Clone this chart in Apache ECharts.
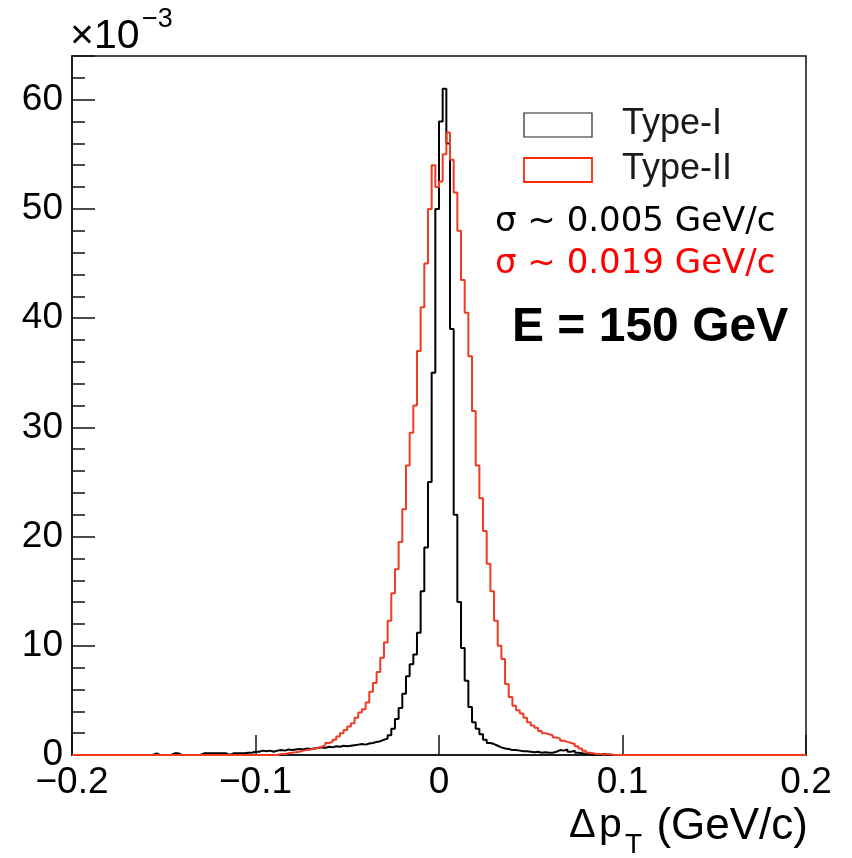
<!DOCTYPE html>
<html>
<head>
<meta charset="UTF-8"/>
<title>delta pT resolution</title>
<script src="https://cdn.jsdelivr.net/npm/echarts@6.0.0/dist/echarts.min.js"></script>
<style>
html,body{margin:0;padding:0;background:#fff;}
#main{width:852px;height:858px;}
</style>
</head>
<body>
<div id="main"></div>
<script type="text/javascript">
// histogram: 200 bins of 0.002 GeV/c from -0.2 to 0.2, contents in units of 1e-3
var binLow = -0.2;
var binWidth = 0.002;

var typeI = [
  0, 0, 0, 0, 0, 0, 0, 0, 0, 0, 0, 0, 0, 0, 0, 0, 0, 0, 0, 0,
  0, 0, 0.15, 0, 0, 0, 0, 0.15, 0.15, 0, 0, 0, 0, 0, 0, 0.15, 0.15, 0.15, 0.15, 0.15,
  0.15, 0.15, 0, 0.15, 0.15, 0.15, 0.15, 0.2, 0.2, 0.3, 0.3, 0.4, 0.35, 0.4, 0.3, 0.4, 0.45, 0.4, 0.5, 0.45,
  0.5, 0.55, 0.5, 0.6, 0.55, 0.6, 0.65, 0.7, 0.65, 0.75, 0.7, 0.8, 0.75, 0.85, 0.8, 0.85, 0.9, 0.95, 1.0, 0.95,
  1.05, 1.1, 1.2, 1.25, 1.4, 1.5, 1.8, 2.4, 3.3, 4.3, 5.6, 7.2, 8.3, 9.2, 11.2, 15, 19, 25, 35, 50,
  58, 61, 56, 39, 22, 14, 9.8, 6.8, 4.4, 3.0, 2.4, 1.9, 1.4, 1.1, 1.0, 0.85, 0.7, 0.6, 0.55, 0.45,
  0.45, 0.4, 0.35, 0.35, 0.3, 0.25, 0.3, 0.2, 0.25, 0.2, 0.2, 0.3, 0.45, 0.4, 0.5, 0.3, 0.4, 0.2, 0.15, 0.1,
  0.1, 0, 0.1, 0, 0.1, 0, 0, 0, 0, 0, 0, 0, 0, 0, 0, 0, 0, 0, 0, 0,
  0, 0, 0, 0, 0, 0, 0, 0, 0, 0, 0, 0, 0, 0, 0, 0, 0, 0, 0, 0,
  0, 0, 0, 0, 0, 0, 0, 0, 0, 0, 0, 0, 0, 0, 0, 0, 0, 0, 0, 0
];

var typeII = [
  0, 0, 0, 0, 0, 0, 0, 0, 0, 0, 0, 0, 0, 0, 0, 0, 0, 0, 0, 0,
  0, 0, 0, 0, 0, 0, 0, 0, 0, 0, 0, 0, 0, 0, 0, 0, 0, 0, 0, 0,
  0, 0, 0, 0, 0, 0, 0, 0, 0, 0, 0, 0, 0, 0, 0, 0, 0.1, 0.1, 0.15, 0.2,
  0.25, 0.3, 0.4, 0.45, 0.5, 0.6, 0.65, 0.75, 0.9, 1.1, 1.2, 1.4, 1.7, 2.0, 2.3, 2.6, 2.9, 3.4, 3.9, 4.2,
  4.8, 5.8, 6.6, 7.6, 8.9, 10.3, 12.3, 14.8, 17, 19.5, 22.5, 26.5, 29.5, 32, 37, 41, 45, 50, 54, 52,
  52.5, 55, 57, 54.5, 51.5, 48, 43.5, 40.5, 36.5, 31.5, 26.5, 23.5, 20.5, 17.5, 15, 12.3, 10, 8.8, 6.5, 5.3,
  4.5, 4.1, 3.8, 3.4, 3.0, 2.7, 2.5, 2.2, 2.0, 1.9, 1.8, 1.6, 1.5, 1.3, 1.2, 1.1, 1.0, 0.8, 0.6, 0.4,
  0.2, 0.15, 0.1, 0.1, 0.05, 0.1, 0.05, 0, 0, 0, 0, 0, 0, 0, 0, 0, 0, 0, 0, 0,
  0, 0, 0, 0, 0, 0, 0, 0, 0, 0, 0, 0, 0, 0, 0, 0, 0, 0, 0, 0,
  0, 0, 0, 0, 0, 0, 0, 0, 0, 0, 0, 0, 0, 0, 0, 0, 0, 0, 0, 0
];

var xMin = -0.2, xMax = 0.2, xStep = 0.1;
var yMax = 64, yStep = 10, yMinorStep = 2;
var seriesNames = ['Type-I', 'Type-II'];
var sigmaLabels = ['\u03c3 ~ 0.005 GeV/c', '\u03c3 ~ 0.019 GeV/c'];

var FONT = '"Liberation Sans", Arial, Helvetica, sans-serif';
var blackCol = '#000000';
var redCol = '#ef3b24';

// left bin edge + content, closed with the upper edge of the last bin
function stepData(vals) {
  var d = [];
  for (var i = 0; i < vals.length; i++) {
    d.push([+(binLow + i * binWidth).toFixed(4), vals[i]]);
  }
  d.push([+(binLow + vals.length * binWidth).toFixed(4), vals[vals.length - 1]]);
  return d;
}

function xLabel(v) {
  if (Math.abs(v) < 1e-9) return '0';
  return (v < 0 ? '\u2212' : '') + Math.abs(v).toFixed(1);
}

var myChart = echarts.init(document.getElementById('main'), null, {renderer: 'canvas'});

var option = {
  backgroundColor: '#fff',
  animation: false,
  grid: {
    left: 72, right: 46, top: 56, bottom: 103,
    show: true, borderColor: '#111', borderWidth: 1.5, backgroundColor: 'transparent'
  },
  xAxis: {
    type: 'value', min: xMin, max: xMax, interval: xStep,
    axisLine: {show: true, onZero: false, lineStyle: {color: '#111', width: 1.5}},
    axisTick: {show: true, inside: true, length: 20, lineStyle: {color: '#111', width: 1.5}},
    splitLine: {show: false},
    axisLabel: {
      formatter: xLabel, fontSize: 37, fontFamily: FONT, color: '#000', margin: 9
    }
  },
  yAxis: [{
    type: 'value', min: 0, max: yMax, interval: yStep, position: 'left',
    axisLine: {show: true, onZero: false, lineStyle: {color: '#111', width: 1.5}},
    axisTick: {show: true, inside: true, length: 23, lineStyle: {color: '#111', width: 1.5}},
    splitLine: {show: false},
    axisLabel: {
      formatter: function (v) { return (v % yStep === 0 && v <= 60) ? String(v) : ''; },
      fontSize: 37, fontFamily: FONT, color: '#000', margin: 9
    }
  }, {
    type: 'value', min: 0, max: yMax, interval: yMinorStep, position: 'left',
    axisLine: {show: false, onZero: false},
    axisTick: {show: true, inside: true, length: 13, lineStyle: {color: '#111', width: 1.5}},
    splitLine: {show: false},
    axisLabel: {show: false}
  }],
  series: [{
    name: seriesNames[0], type: 'line', step: 'end', showSymbol: false, symbol: 'none',
    data: stepData(typeI),
    lineStyle: {color: blackCol, width: 2}, itemStyle: {color: blackCol}, z: 3
  }, {
    name: seriesNames[1], type: 'line', step: 'end', showSymbol: false, symbol: 'none',
    data: stepData(typeII),
    lineStyle: {color: redCol, width: 2}, itemStyle: {color: redCol}, z: 4
  }],
  graphic: [
    // exponent of the y axis
    {type: 'text', x: 70, y: 37, style: {text: '\u00d710', fontSize: 41, fontFamily: FONT, fill: '#000', align: 'left', verticalAlign: 'middle'}},
    {type: 'text', x: 142, y: 20, style: {text: '\u22123', fontSize: 27, fontFamily: FONT, fill: '#000', align: 'left', verticalAlign: 'middle'}},
    // legend
    {type: 'rect', shape: {x: 524, y: 113, width: 68, height: 24}, style: {fill: '#fff', stroke: '#222', lineWidth: 1.2}},
    {type: 'rect', shape: {x: 524, y: 158, width: 68, height: 24}, style: {fill: '#fff', stroke: '#ff2a00', lineWidth: 1.8}},
    {type: 'text', x: 622, y: 124, style: {text: seriesNames[0], fontSize: 36, fontFamily: FONT, fill: '#1a1a1a', align: 'left', verticalAlign: 'middle'}},
    {type: 'text', x: 622, y: 169, style: {text: seriesNames[1], fontSize: 36, fontFamily: FONT, fill: '#1a1a1a', align: 'left', verticalAlign: 'middle'}},
    // resolutions and beam energy
    {type: 'text', x: 495, y: 222, style: {text: sigmaLabels[0], fontSize: 34, fontFamily: '"DejaVu Sans", sans-serif', fill: '#000', align: 'left', verticalAlign: 'middle'}},
    {type: 'text', x: 495, y: 264, style: {text: sigmaLabels[1], fontSize: 34, fontFamily: '"DejaVu Sans", sans-serif', fill: '#ff0000', align: 'left', verticalAlign: 'middle'}},
    {type: 'text', x: 512, y: 328, style: {text: 'E = 150 GeV', fontSize: 48, fontWeight: 'bold', fontFamily: FONT, fill: '#000', align: 'left', verticalAlign: 'middle'}},
    // x axis title: delta p_T (GeV/c)
    {type: 'text', x: 569, y: 826, style: {text: '\u0394', fontSize: 40, fontFamily: FONT, fill: '#000', align: 'left', verticalAlign: 'middle'}},
    {type: 'text', x: 599, y: 826, style: {text: 'p', fontSize: 41, fontFamily: FONT, fill: '#000', align: 'left', verticalAlign: 'middle'}},
    {type: 'text', x: 625, y: 845, style: {text: 'T', fontSize: 28, fontFamily: FONT, fill: '#000', align: 'left', verticalAlign: 'middle'}},
    {type: 'text', x: 808, y: 827, style: {text: '(GeV/c)', fontSize: 44, fontFamily: FONT, fill: '#000', align: 'right', verticalAlign: 'middle'}}
  ]
};

myChart.setOption(option, true);
</script>
</body>
</html>
